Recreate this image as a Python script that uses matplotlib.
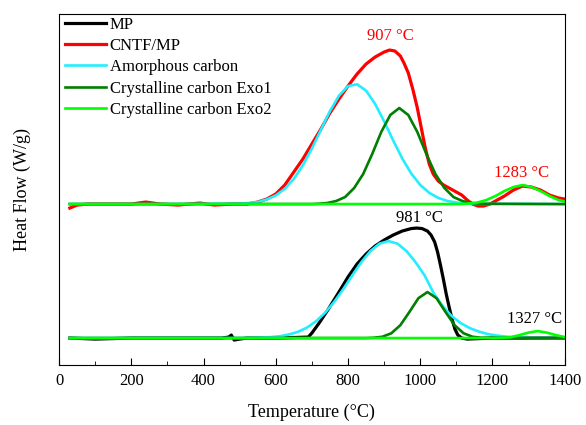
import numpy as np
import matplotlib
matplotlib.use("Agg")
import matplotlib.pyplot as plt

plt.rcParams["font.family"] = ["Liberation Serif", "DejaVu Serif"]

# upper trace: CNTF/MP (offset units, baseline ~161)
t_cntf = [30, 50, 80, 150, 200, 240, 280, 330, 390, 430, 480, 520, 550, 575, 600, 625,
          650, 675, 700, 725, 750, 775, 800, 825, 850, 875, 900, 915, 930, 945, 955,
          967, 980, 992, 1003, 1014, 1025, 1036, 1050, 1065, 1080, 1095, 1105, 1115,
          1130, 1145, 1160, 1175, 1193, 1208, 1233, 1258, 1283, 1308, 1333, 1358,
          1383, 1400]
y_cntf = [157, 160, 161, 161, 161, 163, 161, 160, 162, 160, 161, 161, 163, 166, 171, 180,
          193, 206, 221, 236, 252, 266, 279, 291, 301, 308, 313, 315, 314, 309, 302,
          292, 275, 257, 237, 217, 201, 191, 184, 180, 177, 174, 172, 170,
          165, 161, 159, 159, 161, 164, 169, 175, 179, 178, 175, 170,
          167, 166]

t_amor_up = [30, 300, 500, 525, 550, 575, 600, 625, 650, 675, 700, 725, 750, 775, 800,
             825, 850, 875, 900, 925, 950, 975, 1000, 1025, 1050, 1075, 1100, 1125,
             1150, 1400]
y_amor_up = [161, 161, 161.4, 162, 163, 165.6, 169.6, 176.2, 186.1, 199.6, 216.5, 235.3,
             253.9, 269.3, 278.9, 280.8, 274.4, 261.2, 243.7, 224.6, 206.7, 191.6,
             180.1, 172.2, 167.1, 164.1, 162.5, 161.5, 161.2, 161]

t_exo1_up = [30, 700, 717, 742, 767, 792, 817, 842, 867, 892, 917, 942, 967, 992, 1017,
             1042, 1067, 1092, 1117, 1142, 1167, 1400]
y_exo1_up = [161, 161, 161.3, 162, 164, 168, 177, 191, 211, 233, 250, 257, 250, 233, 211,
             191, 177, 168, 164, 162, 161.3, 161]

t_exo2_up = [30, 1110, 1133, 1158, 1183, 1208, 1233, 1258, 1283, 1308, 1333, 1358, 1383, 1400]
y_exo2_up = [161, 161, 161.5, 162.5, 165, 169, 174, 178, 180, 178, 174, 169, 165, 163.5]

# lower trace: MP (baseline ~27)
t_mp = [30, 100, 200, 300, 400, 450, 470, 477, 485, 500, 520, 600, 690, 700, 720, 744,
        775, 800, 825, 850, 875, 900, 925, 950, 975, 990, 1005, 1020, 1030, 1040,
        1048, 1056, 1064, 1072, 1080, 1088, 1096, 1104, 1115, 1130, 1200, 1300, 1400]
y_mp = [27, 26, 27, 27, 27, 27, 28, 30, 25, 26, 27, 27, 28, 32, 42, 55,
        73, 88, 101, 111, 119, 125, 130, 134, 136.5, 137, 136.5, 134, 130, 123,
        113, 100, 86, 71, 58, 46, 36, 30, 27, 26, 27, 27, 27]

t_amor_lo = [30, 500, 562, 587, 612, 637, 662, 687, 712, 737, 762, 787, 812, 837, 862,
             887, 912, 937, 962, 987, 1012, 1037, 1062, 1087, 1112, 1137, 1162, 1187,
             1212, 1237, 1262, 1300, 1400]
y_amor_lo = [27, 27, 27.5, 28, 28.9, 30.6, 33.3, 37.6, 43.9, 52.5, 63.3, 76, 89.7, 102.9,
             114, 121.4, 124, 121.4, 114, 102.9, 89.7, 72, 59, 49, 42, 37, 33.5, 31,
             29.5, 28.5, 27.8, 27.2, 27]

t_exo1_lo = [30, 850, 870, 895, 920, 945, 970, 995, 1020, 1045, 1070, 1095, 1120, 1145,
             1170, 1400]
y_exo1_lo = [27, 27, 27.3, 28.3, 31.8, 39.9, 53.1, 66.9, 73, 66.9, 53.1, 39.9, 31.8, 28.3,
             27.3, 27]

t_exo2_lo = [30, 1200, 1225, 1250, 1275, 1300, 1325, 1350, 1375, 1400]
y_exo2_lo = [27, 27, 27.2, 27.8, 30, 32.5, 34, 32.5, 30, 28]

fig = plt.figure(figsize=(5.86, 4.25), dpi=100)
ax = fig.add_axes([0.1007, 0.141, 0.863, 0.826])

ax.plot(t_mp, y_mp, color="black", lw=2.3, label="MP")
ax.plot(t_cntf, y_cntf, color="#ff0000", lw=2.3, label="CNTF/MP")
ax.plot(t_amor_up, y_amor_up, color="#22eeff", lw=1.9, label="Amorphous carbon")
ax.plot(t_exo1_up, y_exo1_up, color="#007f00", lw=1.9, label="Crystalline carbon Exo1")
ax.plot(t_exo2_up, y_exo2_up, color="#00ff00", lw=1.9, label="Crystalline carbon Exo2")
ax.plot(t_amor_lo, y_amor_lo, color="#22eeff", lw=1.9)
ax.plot(t_exo1_lo, y_exo1_lo, color="#007f00", lw=1.9)
ax.plot(t_exo2_lo, y_exo2_lo, color="#00ff00", lw=1.9)

ax.text(916, 329, "907 °C", color="#ff0000", fontsize=12, ha="center", va="center")
ax.text(1281, 192, "1283 °C", color="#ff0000", fontsize=12, ha="center", va="center")
ax.text(999, 147, "981 °C", color="black", fontsize=12, ha="center", va="center")
ax.text(1317, 46, "1327 °C", color="black", fontsize=12, ha="center", va="center")

ax.set_xlim(0, 1400)
ax.set_ylim(0, 351)
ax.set_xticks(np.arange(0, 1401, 200))
ax.set_xticks(np.arange(100, 1400, 200), minor=True)
ax.tick_params(axis="x", which="both", direction="in", top=False, labelsize=12, pad=6)
ax.tick_params(axis="x", which="major", length=5)
ax.tick_params(axis="x", which="minor", length=3)
ax.set_yticks([])
ax.set_xlabel("Temperature (°C)", fontsize=13, labelpad=10)
ax.set_ylabel("Heat Flow (W/g)", fontsize=13, labelpad=20)

ax.legend(loc="upper left", bbox_to_anchor=(0.006, 1.0), frameon=False, fontsize=12,
          handlelength=2.5, handletextpad=0.2, labelspacing=0.32,
          borderaxespad=0.05, borderpad=0.1)

fig.savefig("out.png", dpi=100)
